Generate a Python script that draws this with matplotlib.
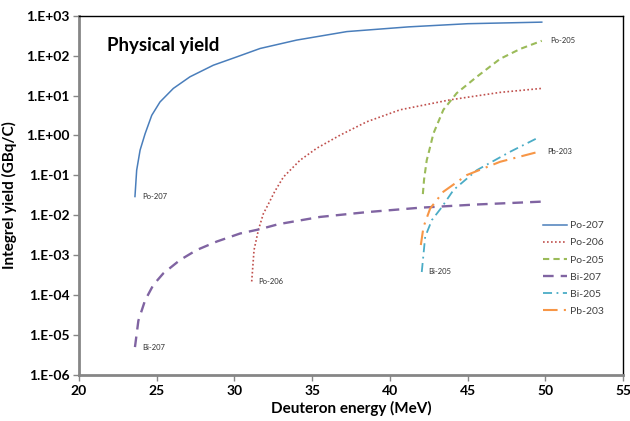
import math
import matplotlib
matplotlib.use("Agg")
import matplotlib.pyplot as plt
from matplotlib.ticker import FixedLocator, FuncFormatter

plt.rcParams['font.family'] = ['Lato', 'DejaVu Sans']

# ----- data (energy in MeV, yield in GBq/C) -----
po207_x = [23.6, 23.71, 23.93, 24.25, 24.68, 25.21, 26.07, 27.14, 28.64, 30.15,
           31.65, 34.0, 37.23, 41.2, 45.0, 49.77]
po207_y = [0.0295, 0.135, 0.43, 1.1, 3.2, 6.9, 15.1, 29.5, 57.5, 93,
           151, 245, 400, 525, 630, 690]

po206_x = [31.11, 31.26, 31.54, 31.86, 32.08, 32.6, 33.15, 34.22, 35.3, 36.8,
           38.51, 40.66, 43.87, 47.09, 49.77]
po206_y = [2.2e-4, 1.35e-3, 4.3e-3, 0.011, 0.016, 0.04, 0.091, 0.24, 0.48, 1.02,
           2.2, 4.4, 7.8, 12.0, 15.1]

po205_x = [42.12, 42.2, 42.37, 42.48, 42.8, 43.44, 44.3, 45.59, 47.09, 48.4, 49.77]
po205_y = [0.034, 0.08, 0.24, 0.35, 1.12, 4.4, 11.5, 29.5, 83, 148, 235]

bi207_x = [23.6, 23.82, 24.25, 24.78, 25.42, 26.5, 27.57, 28.86, 30.36, 31.65,
           32.83, 35.5, 38.5, 41.94, 45.5, 49.77]
bi207_y = [5.0e-6, 2.3e-5, 7.4e-5, 1.8e-4, 3.5e-4, 7.6e-4, 1.35e-3, 2.2e-3,
           3.5e-3, 4.5e-3, 6.0e-3, 9.1e-3, 0.012, 0.0155, 0.0186, 0.022]

bi205_x = [42.05, 42.27, 42.7, 43.34, 44.09, 45.59, 47.73, 49.56]
bi205_y = [3.8e-4, 2.9e-3, 7.6e-3, 0.016, 0.043, 0.135, 0.39, 0.89]

pb203_x = [41.99, 42.16, 42.59, 43.44, 44.95, 47.09, 49.56]
pb203_y = [1.8e-3, 5.1e-3, 0.0148, 0.039, 0.102, 0.219, 0.39]

x_ticks = [20, 25, 30, 35, 40, 45, 50, 55]
y_ticks = [1e-6, 1e-5, 1e-4, 1e-3, 1e-2, 1e-1, 1e0, 1e1, 1e2, 1e3]

# ----- figure -----
fig = plt.figure(figsize=(6.3, 4.21), dpi=100)
ax = fig.add_axes([0.1254, 0.1093, 0.8636, 0.8534])

ax.plot(po207_x, po207_y, color='#4A7EBB', lw=1.1, label='Po-207')
ax.plot(po206_x, po206_y, color='#C0504D', lw=1.2, dashes=(1, 1.4), label='Po-206')
ax.plot(po205_x, po205_y, color='#9BBB59', lw=1.5, dashes=(3, 2), label='Po-205')
ax.plot(bi207_x, bi207_y, color='#8064A2', lw=1.7, dashes=(4.5, 3), label='Bi-207')
ax.plot(bi205_x, bi205_y, color='#4BACC6', lw=1.3, dashes=(5, 2.5, 1, 2.5), label='Bi-205')
ax.plot(pb203_x, pb203_y, color='#F79646', lw=1.5, dashes=(7, 3, 1, 3), label='Pb-203')

# little name tags next to curve ends
lab = dict(fontsize=5.5, color='#303030', va='center', ha='left')
ax.annotate('Po-207', (po207_x[0], po207_y[0]), xytext=(5, 0), textcoords='offset points', **lab)
ax.annotate('Po-206', (po206_x[0], po206_y[0]), xytext=(5, 0), textcoords='offset points', **lab)
ax.annotate('Bi-207', (bi207_x[0], bi207_y[0]), xytext=(5, 0), textcoords='offset points', **lab)
ax.annotate('Bi-205', (bi205_x[0], bi205_y[0]), xytext=(5, 0), textcoords='offset points', **lab)
ax.annotate('Pb-203', (pb203_x[-1], pb203_y[-1]), xytext=(6, 0), textcoords='offset points', **lab)
ax.annotate('Po-205', (po205_x[-1], po205_y[-1]), xytext=(6, 0), textcoords='offset points', **lab)

ax.set_yscale('log')
ax.set_xlim(20, 55)
ax.set_ylim(1e-6, 1e3)
ax.xaxis.set_major_locator(FixedLocator(x_ticks))
ax.yaxis.set_major_locator(FixedLocator(y_ticks))
ax.yaxis.set_minor_locator(FixedLocator([]))
ax.yaxis.set_major_formatter(FuncFormatter(lambda v, p: '1.E%+03d' % round(math.log10(v))))

for t in ax.get_xticklabels() + ax.get_yticklabels():
    t.set_fontweight('bold')
ax.tick_params(axis='both', labelsize=10, length=4, width=1, color='#868686', direction='out', pad=3)

for s in ['left', 'bottom']:
    ax.spines[s].set_color('#868686')
    ax.spines[s].set_linewidth(2)
for s in ['top', 'right']:
    ax.spines[s].set_color('black')
    ax.spines[s].set_linewidth(1)

ax.set_xlabel('Deuteron energy (MeV)', fontsize=11, fontweight='bold', labelpad=3)
ax.set_ylabel('Integrel yield (GBq/C)', fontsize=11, fontweight='bold', labelpad=6)

ax.text(0.051, 0.918, 'Physical yield', transform=ax.transAxes, fontsize=13.5,
        fontweight='bold', va='center', ha='left')

leg = ax.legend(loc='upper left', bbox_to_anchor=(0.845, 0.44), frameon=False,
                fontsize=7.5, handlelength=2.3, handletextpad=0.3, labelspacing=0.75,
                borderaxespad=0)
for t in leg.get_texts():
    t.set_color('#404040')

fig.savefig('out.png', dpi=100)
